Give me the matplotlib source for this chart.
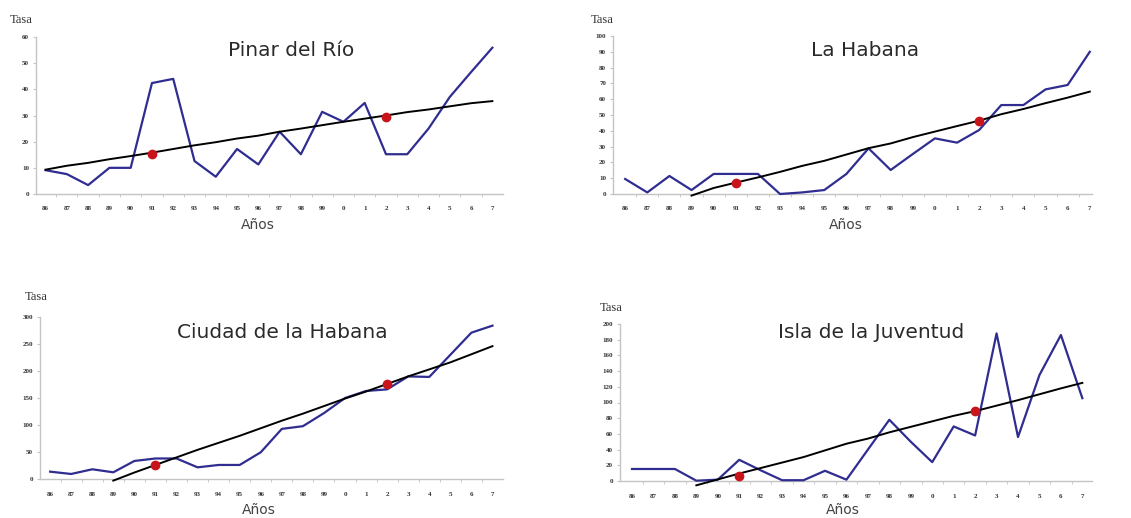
import numpy as np
import matplotlib
matplotlib.use('Agg')
import matplotlib.pyplot as plt

# años (eje x) compartidos por los cuatro gráficos
anios = ['86', '87', '88', '89', '90', '91', '92', '93', '94', '95', '96', '97',
         '98', '99', '0', '1', '2', '3', '4', '5', '6', '7']

# Pinar del Río
pinar_tasa = [9.1, 7.6, 3.4, 10, 10, 42.4, 44, 12.6, 6.6, 17.2, 11.3, 23.8,
              15.2, 31.4, 27.6, 34.8, 15.2, 15.2, 25, 37.1, 46.6, 55.9]
pinar_tend = [9.3, 10.8, 11.9, 13.3, 14.5, 15.8, 17.2, 18.6, 19.8, 21.2, 22.3,
              23.8, 25.0, 26.3, 27.6, 28.8, 30.0, 31.3, 32.3, 33.5, 34.7, 35.5]
pinar_puntos = {'91': 15.2, '2': 29.5}

# La Habana
habana_tasa = [9.5, 1, 11.4, 2.5, 12.7, 12.7, 12.7, 0, 1, 2.5, 12.7, 28.9,
               15.2, 25.3, 35.2, 32.5, 40.5, 56.3, 56.3, 66.2, 69, 90]
habana_tend = [None, None, None, -1.0, 3.8, 7.2, 10.5, 14, 17.8, 21, 25, 29,
               32, 36, 39.5, 43, 46.4, 50.5, 53.8, 57.5, 61, 64.8]
habana_puntos = {'91': 7.2, '2': 46.4}

# Ciudad de la Habana
ciudad_tasa = [13.6, 9.3, 18, 12.4, 33.4, 38, 38, 21.6, 26, 26, 49.5, 92.8,
               97.8, 122, 150, 163, 166, 190, 189, 230, 271, 284]
ciudad_tend = [None, None, None, -3, 12, 26, 40, 54, 67, 80, 94, 108,
               121, 135, 149, 162, 176, 190, 203, 216, 231, 246]
ciudad_puntos = {'91': 26, '2': 176}

# Isla de la Juventud
isla_tasa = [15.3, 15.3, 15.3, 0.4, 1.7, 27, 13.6, 1, 1, 13, 1.7, 40,
             78, 50, 24, 69.5, 58, 188, 56, 135, 186, 105.5]
isla_tend = [None, None, None, -5.5, 2, 9.5, 16.5, 23.5, 30.5, 39, 47.5, 54,
             62, 69, 76, 83, 89, 96, 103, 110.5, 118, 125]
isla_puntos = {'91': 6, '2': 89.4}

W, H = 1131, 518
fig = plt.figure(figsize=(W / 100, H / 100), dpi=100)

AZUL = '#302d91'
ROJO = '#c8141a'
GRIS_EJE = '#c4c4c4'


def panel(izq, der, y0, ytop, xlim, ymax, paso, titulo, tasa, tend, puntos,
          tasa_xy, titulo_xy, anios_xy):
    ax = fig.add_axes([izq / W, (H - y0) / H, (der - izq) / W, (y0 - ytop) / H])
    x = np.arange(len(anios))
    ax.plot(x, tasa, color=AZUL, lw=1.6, clip_on=False, zorder=3)
    t = np.array([np.nan if v is None else v for v in tend], dtype=float)
    ax.plot(x, t, color='black', lw=1.4, clip_on=False, zorder=4)
    px = [anios.index(k) for k in puntos]
    ax.plot(px, list(puntos.values()), 'o', color=ROJO, ms=6,
            clip_on=False, zorder=5)

    ax.set_xlim(*xlim)
    ax.set_ylim(0, ymax)
    ax.set_xticks(x)
    ax.set_xticklabels(anios)
    ax.set_xticks(x[:-1] + 0.5, minor=True)
    ax.set_yticks(np.arange(0, ymax + 1, paso))
    ax.tick_params(axis='x', which='major', length=0, pad=9)
    ax.tick_params(axis='x', which='minor', length=2, color=GRIS_EJE,
                   direction='out')
    ax.tick_params(axis='y', length=2, color=GRIS_EJE, pad=3)
    for lab in ax.get_xticklabels() + ax.get_yticklabels():
        lab.set_fontfamily('Liberation Serif')
        lab.set_fontweight('bold')
        lab.set_fontsize(5)
        lab.set_color('#333333')
    for s in ['top', 'right']:
        ax.spines[s].set_visible(False)
    for s in ['left', 'bottom']:
        ax.spines[s].set_color(GRIS_EJE)
        ax.spines[s].set_linewidth(1.0)
    ax.patch.set_alpha(0)

    fig.text(tasa_xy[0] / W, 1 - tasa_xy[1] / H, 'Tasa', ha='left', va='center',
             family='Liberation Serif', fontsize=9, color='#333333')
    fig.text(titulo_xy[0] / W, 1 - titulo_xy[1] / H, titulo, ha='center',
             va='center', family='DejaVu Sans', fontsize=14.5, color='#2a2a2a')
    fig.text(anios_xy[0] / W, 1 - anios_xy[1] / H, 'Años', ha='center',
             va='center', family='DejaVu Sans', fontsize=10, color='#444444')
    return ax


panel(36, 503, 194, 37, (-0.45, 21.5), 60, 10, 'Pinar del Río',
      pinar_tasa, pinar_tend, pinar_puntos, (10, 20), (291, 51), (258, 225))
panel(613, 1092, 194, 36, (-0.55, 21.1), 100, 10, 'La Habana',
      habana_tasa, habana_tend, habana_puntos, (591, 20), (865, 50), (846, 225))
panel(40, 503, 479, 317, (-0.48, 21.5), 300, 50, 'Ciudad de la Habana',
      ciudad_tasa, ciudad_tend, ciudad_puntos, (25, 297), (282, 333), (259, 510))
panel(620, 1092, 481, 324, (-0.56, 21.45), 200, 20, 'Isla de la Juventud',
      isla_tasa, isla_tend, isla_puntos, (600, 308), (871, 333), (843, 510))

fig.savefig('out.png', dpi=100, facecolor='white')
